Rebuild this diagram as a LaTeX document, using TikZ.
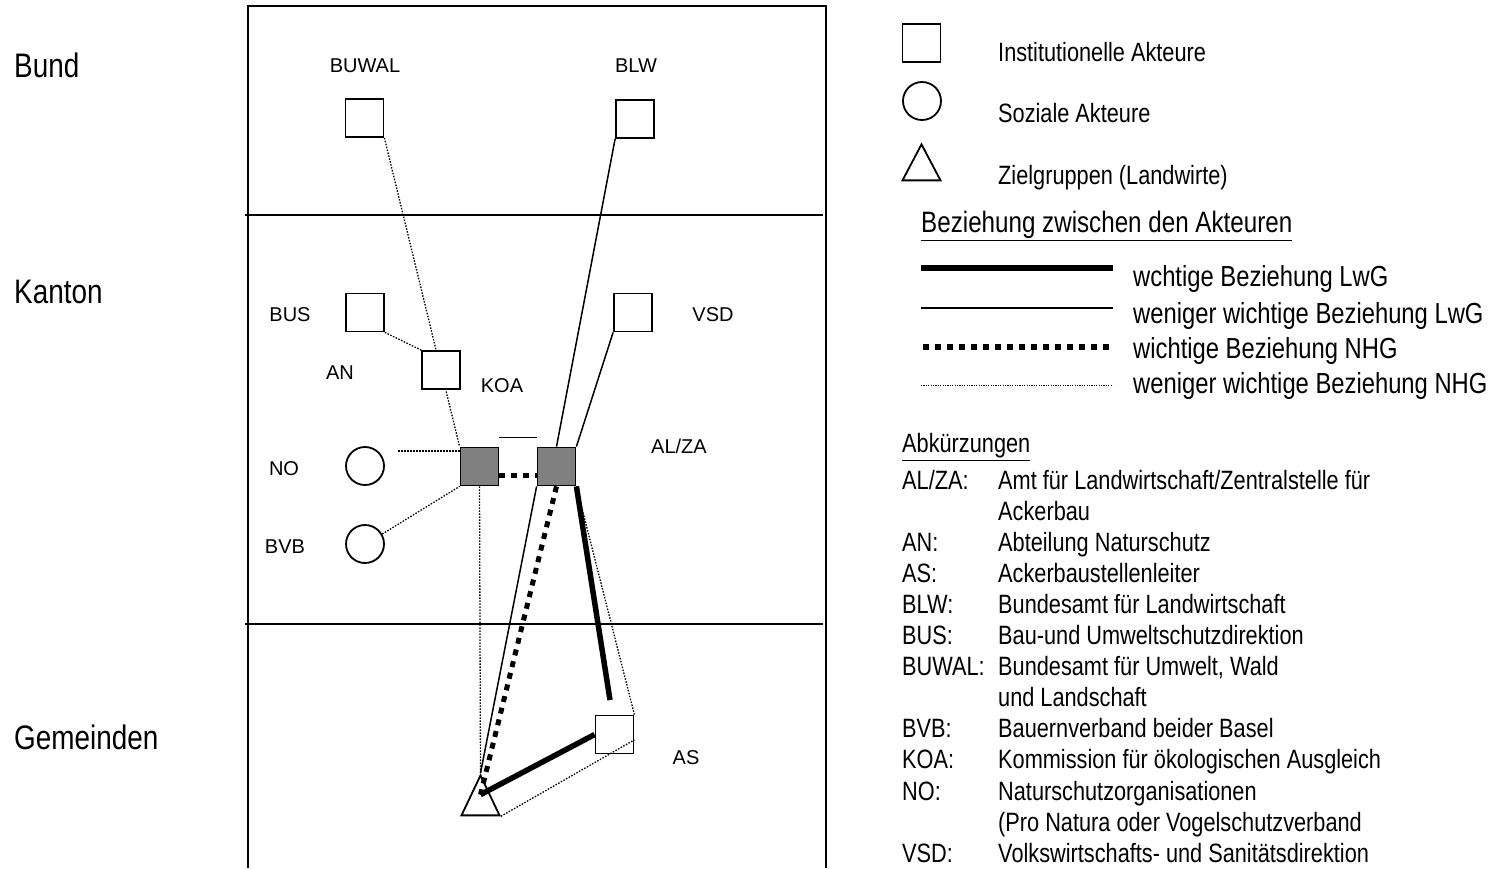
\documentclass[tikz,border=0pt]{standalone}
\usepackage{fontspec}
\setmainfont{Liberation Sans}
\newfontfamily\narrowsans[FakeStretch=0.82]{Liberation Sans}
\usepackage{xcolor}
\usetikzlibrary{positioning, shapes.geometric, calc, backgrounds}
\definecolor{boxgray}{RGB}{128,128,128}

\begin{document}
\begin{tikzpicture}[
        x=1pt, y=-1pt,
        akteur/.style={draw, line width=1.8pt, minimum size=38pt, inner sep=0pt, fill=white},
        grau/.style={akteur, fill=boxgray},
        sozial/.style={draw, circle, line width=1.8pt, minimum size=38pt, inner sep=0pt, fill=white},
        ziel/.style={draw, isosceles triangle, shape border rotate=90, isosceles triangle stretches,
            minimum width=38pt, minimum height=40pt, inner sep=0pt, line width=1.8pt},
        kurz/.style={font=\fontsize{20}{24}\selectfont, inner sep=0pt},
        ebene/.style={font=\narrowsans\fontsize{34}{40}\selectfont, anchor=west, inner sep=0pt},
        legtext/.style={font=\narrowsans\fontsize{26.5}{32}\selectfont, anchor=west, inner sep=0pt},
        reltext/.style={font=\narrowsans\fontsize{29}{35}\selectfont, anchor=west, inner sep=0pt},
        abbr/.style={font=\narrowsans\fontsize{26.5}{31.1}\selectfont, inner sep=0pt},
        lwg/.style={line width=5.5pt},
        lwgweak/.style={line width=1.5pt},
        nhg/.style={line width=5pt, dash pattern=on 6pt off 6pt},
        nhgweak/.style={line width=1.3pt, dash pattern=on 1.5pt off 1.5pt}
    ]
    \useasboundingbox (0,0) rectangle (1495,868);

    % Ebenen
    \draw[line width=1.8pt] (248,868) -- (248,6) -- (826,6) -- (826,868);
    \draw[line width=1.6pt] (245,215) -- (823,215);
    \draw[line width=1.6pt] (245,624) -- (823,624);
    \node[ebene] (bund) at (14,65) {Bund};
    \node[ebene] (kanton) at (14,292) {Kanton};
    \node[ebene] (gemeinden) at (14,737) {Gemeinden};

    % Akteure
    \node[akteur] (buwal) at (364.5,118) {};
    \node[akteur] (blw) at (635,119) {};
    \node[akteur] (bus) at (365,312.5) {};
    \node[akteur] (koa) at (441,370) {};
    \node[akteur] (vsd) at (633,312.5) {};
    \node[grau] (an) at (479.5,466.5) {};
    \node[grau] (alza) at (556.5,466.5) {};
    \node[sozial] (no) at (365,466) {};
    \node[sozial] (bvb) at (365,544) {};
    \node[akteur] (as) at (614.5,734.5) {};
    \node[ziel, anchor=apex] (lw) at (480.5,773) {};

    \node[kurz] (buwallbl) at (365,66) {BUWAL};
    \node[kurz] (blwlbl) at (636,66) {BLW};
    \node[kurz] (buslbl) at (290,315) {BUS};
    \node[kurz] (anlbl) at (340,373) {AN};
    \node[kurz] (koalbl) at (502,386) {KOA};
    \node[kurz] (vsdlbl) at (713,315) {VSD};
    \node[kurz] (nolbl) at (284,469) {NO};
    \node[kurz] (bvblbl) at (285,547) {BVB};
    \node[kurz] (alzalbl) at (679,446) {AL/ZA};
    \node[kurz] (aslbl) at (686,758) {AS};

    \coordinate (noend) at (398,451);
    \coordinate (lwgend) at (610,700);
    \coordinate (lwmid) at ($(lw.apex)!0.5!(lw.lower side)$);

    % Beziehungen
    \begin{scope}[on background layer]
        \draw[nhgweak] (buwal.south east) -- (an.north west);
        \draw[nhgweak] (bus.south east) -- (koa.north west);
        \draw[lwgweak] (blw.south west) -- (alza.north);
        \draw[lwgweak] (vsd.south west) -- (alza.north east);
        \draw[nhgweak] (noend) -- (noend -| an.west);
        \draw[nhgweak] (bvb.30) -- (an.south west);
        \draw[lwgweak] ($(an.north east)+(0,-9)$) -- ($(alza.north west)+(0,-9)$);
        \draw[nhg] (an.-25) -- (alza.205);
        \draw[nhgweak] (an.south) -- (lw.apex);
        \draw[lwgweak] (alza.south west) -- (lw.apex);
        \draw[nhgweak] (alza.south east) -- (as.north east);
    \end{scope}
    \draw[nhg] (alza.south) -- (lwmid);
    \draw[lwg] (alza.south east) -- (lwgend);
    \draw[lwg] (lwmid) -- (as.west);
    \draw[nhgweak] (lw.right corner) -- (as.-15);

    % Legende
    \node[akteur] (legakteur) at (921.5,43) {};
    \node[sozial] (legsozial) at (922,101) {};
    \node[ziel, anchor=apex, minimum height=36pt] (legziel) at (921.5,142) {};
    \node[legtext] (legakteurtxt) at (998,52) {Institutionelle Akteure};
    \node[legtext] (legsozialtxt) at (998,113) {Soziale Akteure};
    \node[legtext] (legzieltxt) at (998,178) {Zielgruppen (Landwirte)};
    \node[reltext, font=\narrowsans\fontsize{29.5}{35}\selectfont] (beziehung) at (921,226) {\underline{Beziehung zwischen den Akteuren}};

    \coordinate (rel1a) at (921,268);
    \coordinate (rel1b) at (1113,268);
    \coordinate (rel2a) at (921,308);
    \coordinate (rel2b) at (1113,308);
    \coordinate (rel3a) at (923,347);
    \coordinate (rel3b) at (1113,347);
    \coordinate (rel4a) at (921,385);
    \coordinate (rel4b) at (1113,385);
    \draw[lwg] (rel1a) -- (rel1b);
    \draw[line width=2pt] (rel2a) -- (rel2b);
    \draw[nhg, line width=6pt] (rel3a) -- (rel3b);
    \draw[nhgweak, line width=1pt, dash pattern=on 1.2pt off 1.2pt] (rel4a) -- (rel4b);
    \node[reltext] (rel1txt) at (1133,279) {wchtige Beziehung LwG};
    \node[reltext] (rel2txt) at (1133,316) {weniger wichtige Beziehung LwG};
    \node[reltext] (rel3txt) at (1133,351) {wichtige Beziehung NHG};
    \node[reltext] (rel4txt) at (1133,386) {weniger wichtige Beziehung NHG};

    % Abkuerzungen
    \node[abbr, anchor=west] (abk) at (902,447) {\underline{Abkürzungen}};
    \node[abbr, anchor=base west] (abklist) at (902,489) {%
        \begin{tabular}[t]{@{}p{96pt}@{}l@{}}
            AL/ZA: & Amt für Landwirtschaft/Zentralstelle für\\
                   & Ackerbau\\
            AN:    & Abteilung Naturschutz\\
            AS:    & Ackerbaustellenleiter\\
            BLW:   & Bundesamt für Landwirtschaft\\
            BUS:   & Bau-und Umweltschutzdirektion\\
            BUWAL: & Bundesamt für Umwelt, Wald\\
                   & und Landschaft\\
            BVB:   & Bauernverband beider Basel\\
            KOA:   & Kommission für ökologischen Ausgleich\\
            NO:    & Naturschutzorganisationen\\
                   & (Pro Natura oder Vogelschutzverband\\
            VSD:   & Volkswirtschafts- und Sanitätsdirektion
        \end{tabular}};
\end{tikzpicture}
\end{document}
